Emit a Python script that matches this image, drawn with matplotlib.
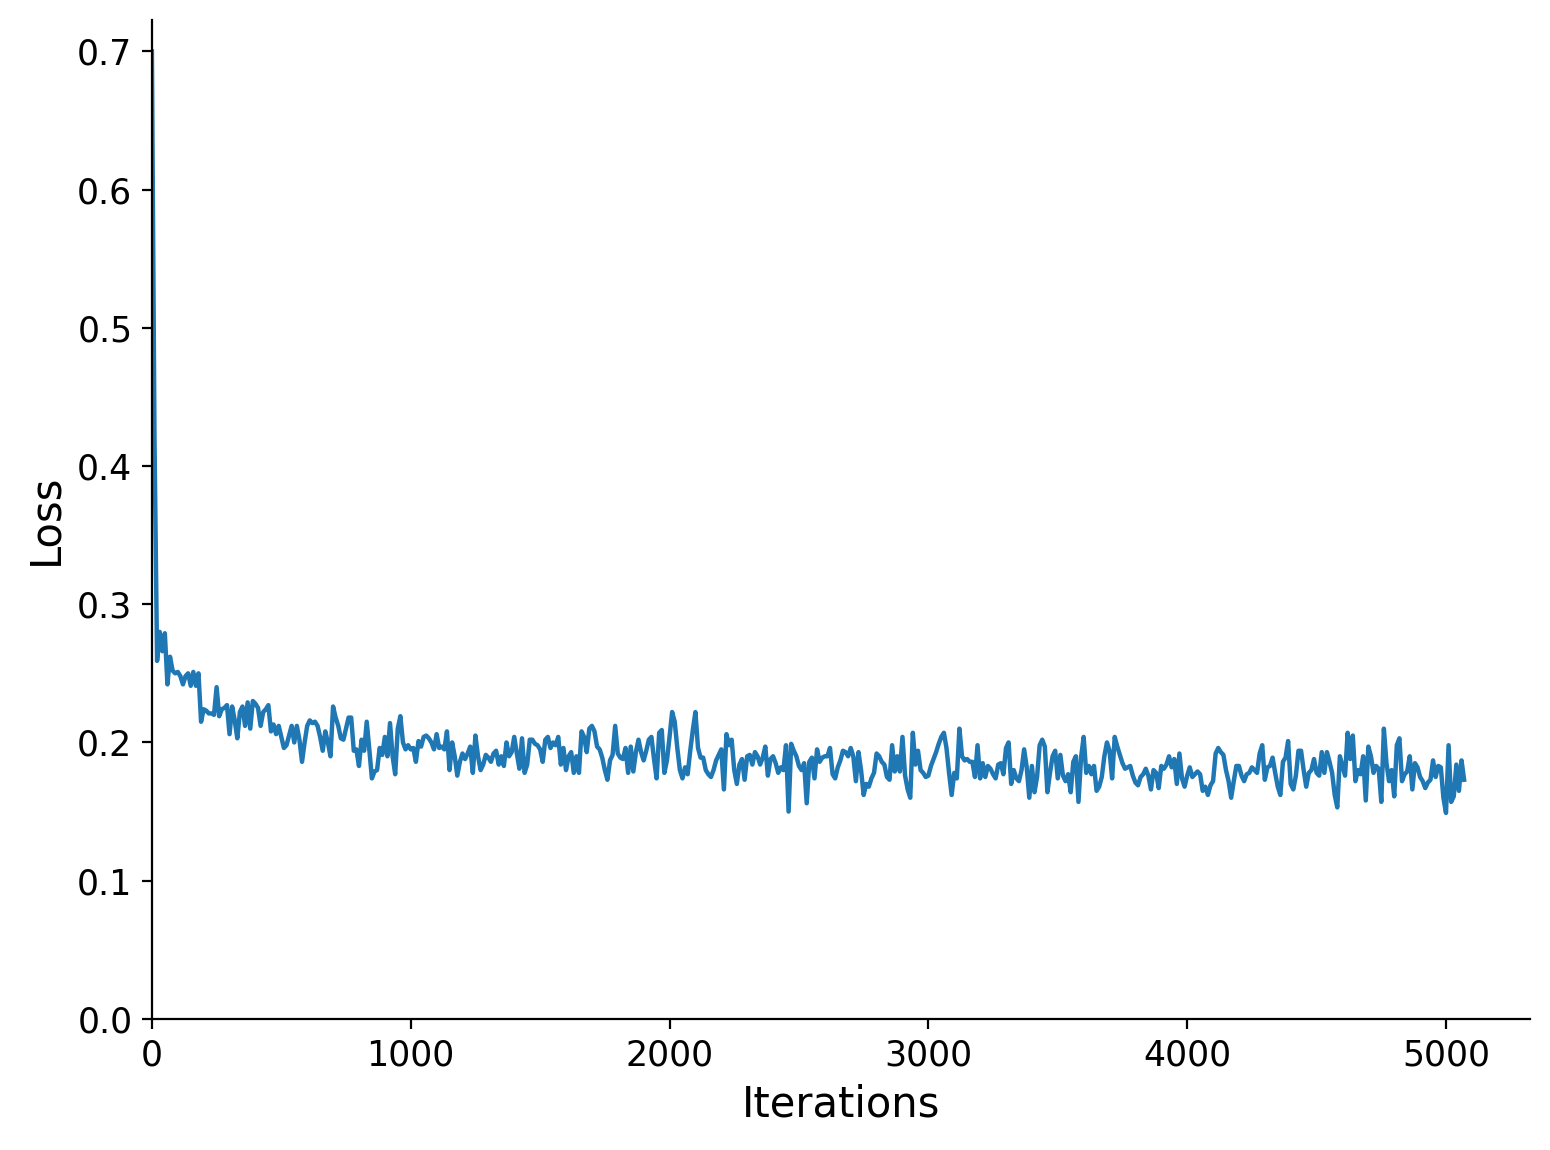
import numpy as np
import matplotlib
matplotlib.use("Agg")
import matplotlib.pyplot as plt

log_every = 10
loss = [
    0.700, 0.420, 0.259, 0.280, 0.266, 0.279, 0.242, 0.262, 0.252, 0.250,
    0.251, 0.248, 0.242, 0.248, 0.250, 0.241, 0.251, 0.241, 0.250, 0.215,
    0.224, 0.223, 0.221, 0.221, 0.220, 0.240, 0.219, 0.224, 0.225, 0.227,
    0.206, 0.226, 0.216, 0.203, 0.222, 0.226, 0.212, 0.229, 0.210, 0.230,
    0.228, 0.225, 0.212, 0.222, 0.224, 0.227, 0.208, 0.213, 0.206, 0.212,
    0.204, 0.196, 0.198, 0.205, 0.212, 0.200, 0.212, 0.202, 0.186, 0.200,
    0.212, 0.216, 0.214, 0.215, 0.212, 0.204, 0.194, 0.208, 0.200, 0.190,
    0.226, 0.218, 0.212, 0.203, 0.202, 0.210, 0.218, 0.218, 0.194, 0.195,
    0.183, 0.202, 0.194, 0.215, 0.195, 0.174, 0.179, 0.180, 0.196, 0.191,
    0.204, 0.190, 0.214, 0.190, 0.177, 0.210, 0.219, 0.200, 0.195, 0.198,
    0.195, 0.196, 0.186, 0.201, 0.197, 0.204, 0.205, 0.203, 0.200, 0.195,
    0.206, 0.196, 0.197, 0.195, 0.208, 0.180, 0.200, 0.190, 0.176, 0.186,
    0.192, 0.188, 0.192, 0.197, 0.178, 0.205, 0.190, 0.180, 0.184, 0.191,
    0.189, 0.186, 0.192, 0.194, 0.184, 0.190, 0.183, 0.200, 0.190, 0.193,
    0.204, 0.192, 0.181, 0.203, 0.178, 0.184, 0.202, 0.202, 0.199, 0.198,
    0.195, 0.186, 0.202, 0.204, 0.196, 0.200, 0.198, 0.204, 0.184, 0.196,
    0.180, 0.190, 0.193, 0.178, 0.190, 0.178, 0.208, 0.204, 0.193, 0.210,
    0.212, 0.208, 0.197, 0.195, 0.189, 0.180, 0.173, 0.187, 0.191, 0.212,
    0.192, 0.189, 0.188, 0.196, 0.178, 0.197, 0.179, 0.193, 0.202, 0.193,
    0.187, 0.194, 0.202, 0.204, 0.188, 0.174, 0.207, 0.209, 0.178, 0.187,
    0.204, 0.222, 0.215, 0.196, 0.180, 0.174, 0.182, 0.177, 0.194, 0.209,
    0.222, 0.196, 0.189, 0.189, 0.180, 0.177, 0.175, 0.180, 0.187, 0.191,
    0.195, 0.166, 0.206, 0.198, 0.202, 0.180, 0.170, 0.184, 0.188, 0.173,
    0.190, 0.191, 0.184, 0.193, 0.190, 0.184, 0.189, 0.197, 0.176, 0.188,
    0.190, 0.185, 0.178, 0.182, 0.180, 0.198, 0.150, 0.199, 0.194, 0.190,
    0.183, 0.180, 0.185, 0.156, 0.186, 0.189, 0.174, 0.195, 0.186, 0.189,
    0.190, 0.190, 0.196, 0.177, 0.174, 0.182, 0.187, 0.194, 0.193, 0.190,
    0.196, 0.190, 0.172, 0.193, 0.180, 0.162, 0.170, 0.168, 0.174, 0.178,
    0.192, 0.190, 0.186, 0.184, 0.175, 0.173, 0.198, 0.179, 0.190, 0.179,
    0.204, 0.176, 0.166, 0.160, 0.207, 0.184, 0.194, 0.180, 0.178, 0.175,
    0.176, 0.183, 0.188, 0.193, 0.199, 0.204, 0.207, 0.196, 0.178, 0.162,
    0.178, 0.174, 0.210, 0.190, 0.187, 0.188, 0.186, 0.186, 0.175, 0.198,
    0.174, 0.185, 0.175, 0.183, 0.181, 0.177, 0.174, 0.184, 0.185, 0.177,
    0.196, 0.200, 0.170, 0.180, 0.174, 0.172, 0.180, 0.195, 0.182, 0.160,
    0.183, 0.164, 0.175, 0.198, 0.202, 0.197, 0.164, 0.178, 0.190, 0.194,
    0.174, 0.191, 0.176, 0.172, 0.177, 0.164, 0.186, 0.190, 0.157, 0.189,
    0.204, 0.178, 0.183, 0.177, 0.183, 0.165, 0.168, 0.175, 0.190, 0.200,
    0.194, 0.174, 0.204, 0.197, 0.191, 0.185, 0.181, 0.182, 0.183, 0.176,
    0.171, 0.169, 0.175, 0.177, 0.181, 0.176, 0.166, 0.180, 0.178, 0.167,
    0.183, 0.181, 0.184, 0.190, 0.182, 0.188, 0.170, 0.192, 0.174, 0.168,
    0.176, 0.182, 0.175, 0.177, 0.179, 0.177, 0.165, 0.168, 0.162, 0.169,
    0.172, 0.192, 0.196, 0.193, 0.191, 0.180, 0.172, 0.160, 0.172, 0.183,
    0.183, 0.176, 0.172, 0.177, 0.178, 0.182, 0.180, 0.178, 0.192, 0.198,
    0.173, 0.182, 0.183, 0.189, 0.178, 0.168, 0.162, 0.186, 0.189, 0.201,
    0.170, 0.166, 0.176, 0.194, 0.194, 0.180, 0.168, 0.178, 0.180, 0.188,
    0.178, 0.176, 0.193, 0.178, 0.193, 0.186, 0.178, 0.162, 0.153, 0.190,
    0.183, 0.176, 0.207, 0.188, 0.205, 0.172, 0.180, 0.177, 0.190, 0.158,
    0.197, 0.190, 0.178, 0.183, 0.181, 0.157, 0.210, 0.185, 0.172, 0.180,
    0.161, 0.198, 0.203, 0.172, 0.177, 0.179, 0.190, 0.166, 0.185, 0.182,
    0.175, 0.172, 0.167, 0.171, 0.173, 0.187, 0.175, 0.183, 0.182, 0.160,
    0.149, 0.198, 0.157, 0.161, 0.184, 0.165, 0.187, 0.173,
]
iterations = np.arange(len(loss)) * log_every

fig, ax = plt.subplots(figsize=(7.75, 5.75), dpi=200)
fig.subplots_adjust(left=0.098, right=0.987, bottom=0.114, top=0.983)

ax.plot(iterations, loss, color="#1f77b4", lw=1.6)

ax.set_xlim(0, 5324)
ax.set_ylim(0, 0.723)
ax.set_xlabel("Iterations", fontsize=15)
ax.set_ylabel("Loss", fontsize=15)
ax.tick_params(labelsize=12.5)

# seaborn-ish despine
ax.spines["top"].set_visible(False)
ax.spines["right"].set_visible(False)

fig.savefig("out.png", dpi=200)
